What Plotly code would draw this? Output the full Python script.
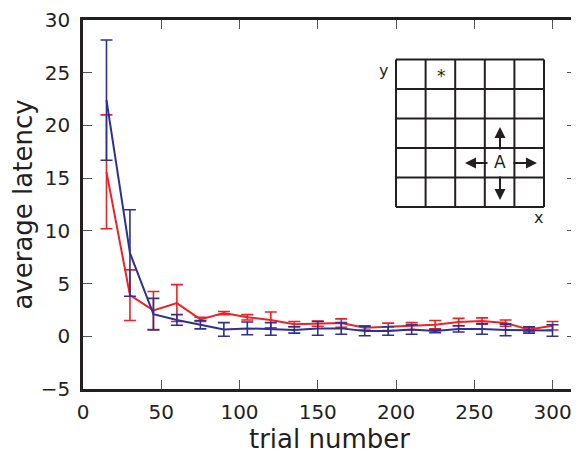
import plotly.graph_objects as go

trials = [15, 30, 45, 60, 75, 90, 105, 120, 135, 150, 165, 180, 195, 210, 225, 240, 255, 270, 285, 300]
red_mean = [15.6, 3.9, 2.45, 3.15, 1.6, 2.2, 1.8, 1.55, 1.15, 1.2, 1.25, 0.8, 0.9, 0.95, 1.1, 1.35, 1.45, 1.25, 0.65, 1.0]
red_err = [5.4, 2.4, 1.8, 1.75, 0.2, 0.15, 0.25, 0.75, 0.25, 0.25, 0.4, 0.2, 0.35, 0.35, 0.4, 0.35, 0.3, 0.3, 0.2, 0.4]
blue_mean = [22.4, 7.9, 2.1, 1.55, 1.1, 0.65, 0.75, 0.7, 0.6, 0.75, 0.75, 0.5, 0.5, 0.65, 0.5, 0.7, 0.7, 0.6, 0.6, 0.55]
blue_err = [5.7, 4.1, 1.5, 0.5, 0.4, 0.65, 0.6, 0.6, 0.3, 0.65, 0.55, 0.45, 0.4, 0.45, 0.15, 0.3, 0.5, 0.55, 0.3, 0.55]

RED = '#ec2227'
BLUE = '#2e3192'
INK = '#231f20'

fig = go.Figure()
fig.add_trace(go.Scatter(x=trials, y=red_mean, mode='lines', line=dict(color=RED, width=2),
                         error_y=dict(type='data', array=red_err, color=RED, thickness=1.6, width=6),
                         showlegend=False))
fig.add_trace(go.Scatter(x=trials, y=blue_mean, mode='lines', line=dict(color=BLUE, width=2),
                         error_y=dict(type='data', array=blue_err, color=BLUE, thickness=1.6, width=6),
                         showlegend=False))

# page offset (body margin) of 8 px
OFF = 8
# plot area in page pixels
L, R, T, B = 83, 576, 20, 389
W, H = 579, 451

def dx(px):
    return (px - L) / (R - L)

def dy(py):
    return (B - py) / (B - T)

shapes = []
gx0, gx1, gy0, gy1 = 396, 544, 59.5, 207
n = 5
for i in range(n + 1):
    xx = gx0 + (gx1 - gx0) * i / n
    yy = gy0 + (gy1 - gy0) * i / n
    shapes.append(dict(type='line', xref='x domain', yref='y domain', x0=dx(xx), x1=dx(xx), y0=dy(gy0), y1=dy(gy1),
                       line=dict(color=INK, width=2)))
    shapes.append(dict(type='line', xref='x domain', yref='y domain', x0=dx(gx0), x1=dx(gx1), y0=dy(yy), y1=dy(yy),
                       line=dict(color=INK, width=2)))

font = dict(family='DejaVu Sans', color=INK)
ann = []
def txt(t, px, py, size):
    ann.append(dict(text=t, xref='x domain', yref='y domain', x=dx(px), y=dy(py), showarrow=False,
                    font=dict(size=size, **font), xanchor='center', yanchor='middle'))

txt('y', 383, 71, 16)
txt('x', 538, 217, 16)
txt('*', 441, 76, 17)
txt('A', 500, 162, 17)

def arrow(tx, ty, axo, ayo):
    ann.append(dict(text='', xref='x domain', yref='y domain', x=dx(tx), y=dy(ty), ax=axo, ay=ayo,
                    showarrow=True, arrowhead=2, arrowsize=1.1, arrowwidth=2, arrowcolor=INK))

arrow(500, 127, 0, 24)
arrow(500, 200, 0, -25)
arrow(465, 163, 24, 0)
arrow(537, 163, -25, 0)

fig.update_layout(
    width=W, height=H,
    margin=dict(l=L - OFF, r=W - R + OFF, t=T - OFF, b=H - B + OFF, autoexpand=False),
    plot_bgcolor='white', paper_bgcolor='white',
    shapes=shapes, annotations=ann,
    font=dict(family='DejaVu Sans', size=20, color=INK),
)
axis_common = dict(showline=True, linecolor=INK, linewidth=2.5, mirror='ticks', ticks='inside', ticklen=9,
                   tickwidth=1.2, tickcolor='#555', showgrid=False, zeroline=False, automargin=False,
                   tickfont=dict(size=20, family='DejaVu Sans', color=INK))
fig.update_xaxes(range=[0, 315], tickvals=[0, 50, 100, 150, 200, 250, 300], ticklabelstandoff=3,
                 title=dict(text='trial number', font=dict(size=26, family='DejaVu Sans', color=INK), standoff=4),
                 **axis_common)
fig.update_yaxes(range=[-5, 30], tickvals=[-5, 0, 5, 10, 15, 20, 25, 30], ticklabelstandoff=6,
                 title=dict(text='average latency', font=dict(size=26, family='DejaVu Sans', color=INK), standoff=6),
                 **axis_common)

fig.write_html('out.html')
